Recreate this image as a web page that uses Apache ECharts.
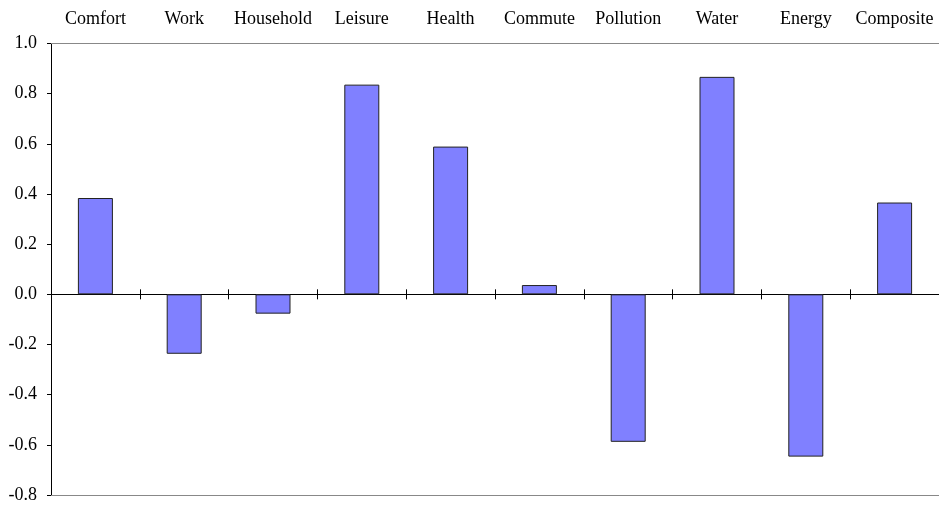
<!DOCTYPE html>
<html><head><meta charset="utf-8">
<script src="https://cdn.jsdelivr.net/npm/echarts@6/dist/echarts.min.js"></script>
<style>html,body{margin:0;padding:0;background:#fff}#c{width:939px;height:507px}</style>
</head><body><div id="c"></div>
<script>
var categories = ['Comfort','Work','Household','Leisure','Health','Commute','Pollution','Water','Energy','Composite'];
var values = [0.384, -0.237, -0.077, 0.836, 0.589, 0.037, -0.588, 0.867, -0.647, 0.366];
var yTicks = {min: -0.8, max: 1.0, interval: 0.2};

var W = 939, H = 507, gTop = 43.5, gBottom = 12;
var zeroOffset = (H - gTop - gBottom) * (yTicks.max / (yTicks.max - yTicks.min));

var chart = echarts.init(document.getElementById('c'));
var font = 'Liberation Serif';
var base = {type:'category', data: categories, boundaryGap: true};
chart.setOption({
  animation: false,
  grid: {left: 51, right: 0, top: gTop, bottom: gBottom, containLabel: false},
  xAxis: [
    Object.assign({}, base, {position:'bottom', axisLine:{onZero:true, lineStyle:{color:'#000', width:1}},
      axisTick:{show:true, inside:false, length:5, lineStyle:{color:'#000'}}, axisLabel:{show:false}, splitLine:{show:false}}),
    Object.assign({}, base, {position:'top', offset: -zeroOffset, axisLine:{onZero:false, show:false},
      axisTick:{show:true, inside:false, length:5, lineStyle:{color:'#000'}}, axisLabel:{show:false}, splitLine:{show:false}}),
    Object.assign({}, base, {position:'top', axisLine:{show:true, onZero:false, lineStyle:{color:'#888', width:1}},
      axisTick:{show:false}, axisLabel:{show:true, interval:0, margin:15, color:'#000', fontFamily:font, fontSize:18}, splitLine:{show:false}}),
    Object.assign({}, base, {position:'bottom', axisLine:{show:true, onZero:false, lineStyle:{color:'#888', width:1}},
      axisTick:{show:false}, axisLabel:{show:false}, splitLine:{show:false}})
  ],
  yAxis: {type:'value', min: yTicks.min, max: yTicks.max, interval: yTicks.interval,
    axisLine:{show:true, lineStyle:{color:'#000'}}, axisTick:{show:true, length:4, lineStyle:{color:'#000'}},
    splitLine:{show:false},
    axisLabel:{color:'#000', fontFamily:font, fontSize:18, margin:14, formatter:function(v){return v.toFixed(1);}}},
  series: [{type:'bar', data: values, barWidth: 35, xAxisIndex: 0,
    itemStyle:{color:'#8080FF', borderColor:'#222', borderWidth:1}}]
});
</script></body></html>
